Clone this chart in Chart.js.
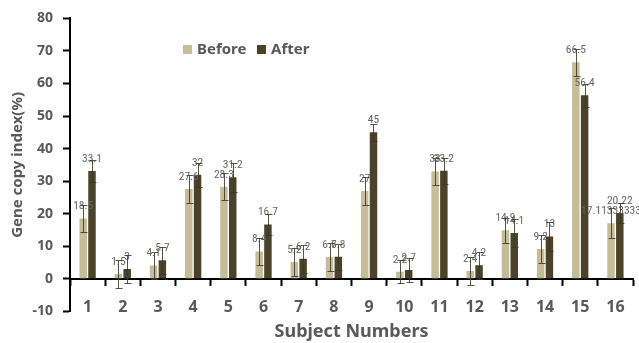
<!DOCTYPE html>
<html>
<head>
<meta charset="utf-8">
<script src="https://cdn.jsdelivr.net/npm/chart.js@4/dist/chart.umd.min.js"></script>
<style>
  html, body { margin: 0; padding: 0; background: #fff; }
  canvas { display: block; }
</style>
</head>
<body>
<canvas id="chart" width="639" height="343"></canvas>
<script>
// Gene copy index per subject, before and after
const subjects = ['1','2','3','4','5','6','7','8','9','10','11','12','13','14','15','16'];
const before = [18.5, 1.5, 4.1, 27.6, 28.3, 8.4, 5.2, 6.7, 27, 2.2, 33, 2.4, 14.9, 9.2, 66.5, 17.11333333];
const after = [33.1, 3, 5.7, 32, 31.2, 16.7, 6.2, 6.8, 45, 2.7, 33.2, 4.2, 14.1, 13, 56.4, 20.22];
const beforeErr = [4.2, 4.2, 4.2, 4.3, 4.2, 4.2, 4.3, 4.2, 4.2, 3.5, 4.2, 4.2, 3.8, 4.3, 4.2, 4.5];
const afterErr = [3.5, 4.2, 4.1, 3.7, 4.5, 3.3, 4.3, 4.0, 2.6, 3.8, 4.0, 4.1, 4.3, 4.5, 3.5, 3.0];
const yTicks = { min: -10, max: 80, step: 10 };

const TEXT = '#595959';
const FONT = '"Noto Sans", "Open Sans", sans-serif';
const LABEL_FONT = '11.5px "Liberation Sans Narrow", "Roboto Condensed", "Liberation Sans", sans-serif';

// value labels and error bars on top of the bars
const barExtras = {
  id: 'barExtras',
  afterDatasetsDraw(chart) {
    const { ctx, scales: { y } } = chart;
    ctx.save();
    chart.data.datasets.forEach((ds, di) => {
      const meta = chart.getDatasetMeta(di);
      meta.data.forEach((bar, i) => {
        const v = ds.data[i];
        ctx.font = LABEL_FONT;
        ctx.fillStyle = '#666';
        ctx.textAlign = 'center';
        ctx.textBaseline = 'middle';
        ctx.fillText(String(v), bar.x, bar.y - 12);
      });
    });
    chart.data.datasets.forEach((ds, di) => {
      const meta = chart.getDatasetMeta(di);
      meta.data.forEach((bar, i) => {
        const v = ds.data[i], e = ds.errors[i];
        const yt = Math.round(y.getPixelForValue(v + e)) + 0.5;
        const yb = Math.round(y.getPixelForValue(v - e)) + 0.5;
        const x = Math.round(bar.x) + 0.5;
        ctx.strokeStyle = 'rgba(60,54,40,0.85)';
        ctx.lineWidth = 1;
        ctx.beginPath();
        ctx.moveTo(x, yt); ctx.lineTo(x, yb);
        ctx.moveTo(x - 3, yt); ctx.lineTo(x + 4, yt);
        ctx.moveTo(x - 3, yb); ctx.lineTo(x + 4, yb);
        ctx.stroke();
      });
    });
    ctx.restore();
  }
};

// legend inside the plot area
const innerLegend = {
  id: 'innerLegend',
  afterDraw(chart) {
    const { ctx } = chart;
    ctx.save();
    ctx.font = 'bold 15px ' + FONT;
    ctx.textBaseline = 'middle';
    ctx.textAlign = 'left';
    const pos = [183, 257];
    chart.data.datasets.forEach((ds, i) => {
      const x = pos[i], yMid = 49.5;
      ctx.fillStyle = ds.backgroundColor;
      ctx.fillRect(x, yMid - 4.5, 9, 9);
      ctx.fillStyle = TEXT;
      ctx.fillText(ds.label, x + 14, yMid);
    });
    ctx.restore();
  }
};

new Chart(document.getElementById('chart'), {
  type: 'bar',
  data: {
    labels: subjects,
    datasets: [
      { label: 'Before', data: before, errors: beforeErr, backgroundColor: '#c4bd97',
        categoryPercentage: 0.5, barPercentage: 0.85 },
      { label: 'After', data: after, errors: afterErr, backgroundColor: '#4a4229',
        categoryPercentage: 0.5, barPercentage: 0.85 }
    ]
  },
  options: {
    responsive: false,
    animation: false,
    devicePixelRatio: 1,
    layout: { padding: { left: 0, right: 6, top: 18, bottom: 0 } },
    plugins: {
      legend: { display: false },
      tooltip: { enabled: false },
      title: {
        display: true, position: 'bottom', fullSize: false,
        text: 'Subject Numbers', color: TEXT,
        font: { family: FONT, size: 18, weight: 'bold', lineHeight: 1.2 },
        padding: { top: 10, bottom: 0 }
      }
    },
    scales: {
      x: {
        position: { y: 0 },
        offset: true,
        grid: { offset: true, drawOnChartArea: false, tickLength: 6, tickColor: '#000', tickWidth: 2 },
        border: { color: '#000', width: 2 },
        ticks: { color: TEXT, font: { family: FONT, size: 16, weight: 'bold' }, padding: 13, maxRotation: 0, autoSkip: false }
      },
      y: {
        min: yTicks.min, max: yTicks.max,
        afterFit(s) { s.width = 70; },
        grid: { drawOnChartArea: false, tickLength: 7, tickColor: '#000', tickWidth: 2 },
        border: { color: '#000', width: 2 },
        ticks: { stepSize: yTicks.step, color: TEXT, font: { family: FONT, size: 14, weight: 'bold' }, padding: 10 },
        title: {
          display: true, text: 'Gene copy index(%)', color: TEXT,
          font: { family: FONT, size: 15, weight: 'bold', lineHeight: 1.2 },
          padding: { top: 9, bottom: 0 }
        }
      }
    }
  },
  plugins: [barExtras, innerLegend]
});
</script>
</body>
</html>
